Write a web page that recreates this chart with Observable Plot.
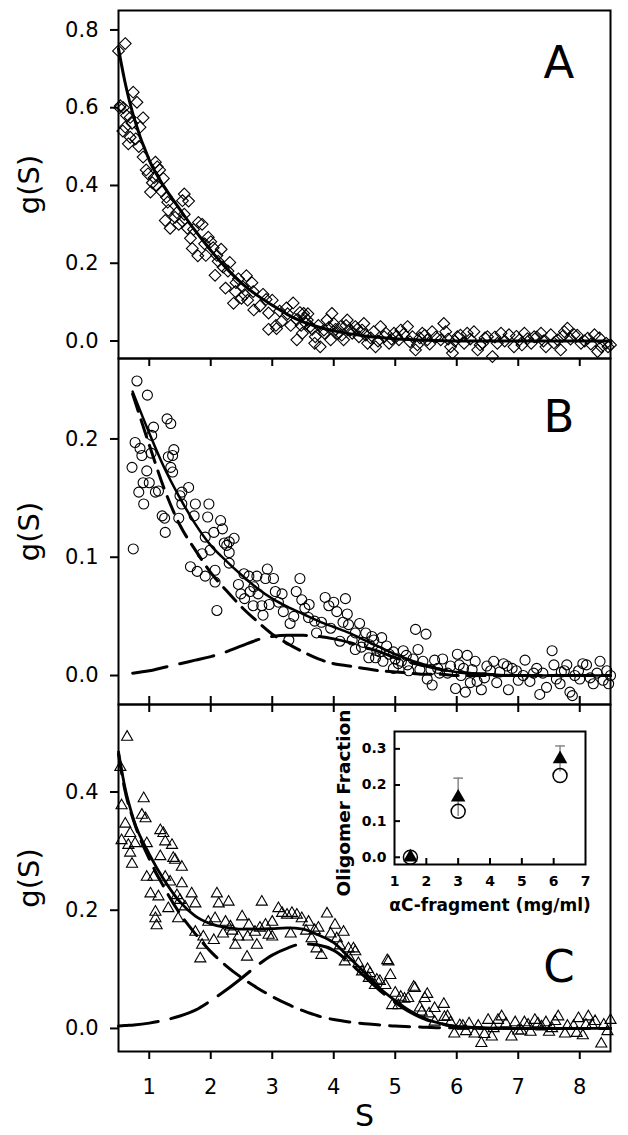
<!DOCTYPE html>
<html><head><meta charset="utf-8">
<script src="https://cdn.jsdelivr.net/npm/d3@7"></script>
<script src="https://cdn.jsdelivr.net/npm/@observablehq/plot@0.6"></script>
<style>
body{margin:0;background:#fff;}
#chart{position:relative;width:628px;height:1135px;}
#chart svg{position:absolute;left:0;overflow:visible;background:transparent;font-family:"DejaVu Sans",sans-serif;}
</style></head><body><div id="chart"></div>
<script>
// ---------- axes / labels ----------
const xDomain = [0.5, 8.5];
const xTicks = [1, 2, 3, 4, 5, 6, 7, 8];
const yTicksA = [0, 0.2, 0.4, 0.6, 0.8];
const yTicksB = [0, 0.1, 0.2];
const yTicksC = [0, 0.2, 0.4];
const yTitle = "g(S)";
const xTitle = "S";
const letters = ["A", "B", "C"];

// ---------- Panel A : diamonds ----------
const aS = [0.50,0.61,0.53,0.58,0.74,0.80,0.69,0.90,0.61,0.85,0.69,0.66,0.90,1.10,1.13,0.98,1.17,1.23,1.02,1.05,1.20,1.30,1.31,1.26,1.34,1.42,1.54,1.57,1.64,1.57,1.54,1.72,1.80,1.86,1.67,1.70,1.79,1.96,2.00,2.04,2.17,2.10,2.12,2.31,2.07,2.28,2.24,2.41,2.58,2.67,2.40,2.37,2.50,2.55,2.60,2.69,2.70,2.90,2.94,3.00,3.06,2.94,3.07,3.12,3.23,3.25,3.34,3.40,3.40,3.45,3.53,3.47,3.58,3.69,
  0.52,0.57,0.63,0.72,0.78,0.83,0.95,1.08,1.12,1.28,1.45,1.48,1.62,1.90,1.92,2.20,2.45,2.52,2.80,2.85,3.15,3.30,
  3.51,3.57,3.49,3.62,3.70,3.78,3.84,3.89,3.97,4.00,4.06,3.95,4.11,4.22,4.27,4.35,4.16,4.41,4.46,4.55,4.49,4.65,4.76,4.82,4.90,4.98,5.06,5.09,4.68,5.20,5.28,5.36,5.44,5.52,5.60,5.33,5.79,5.82,5.74,5.90,6.01,6.12,6.17,5.93,6.28,6.42,6.50,6.58,6.66,6.72,6.34,6.85,6.93,7.02,7.10,7.21,7.26,7.37,7.45,7.53,7.64,7.75,7.80,7.69,7.91,8.02,8.13,8.24,8.35,8.43,8.50,8.29,
  3.55,3.65,3.75,3.85,3.92,4.03,4.13,4.20,4.30,4.38,4.52,4.60,4.72,4.85,4.94,5.02,5.14,5.24,5.40,5.48,5.56,5.66,5.86,5.97,6.06,6.22,6.38,6.46,6.62,6.78,6.97,7.06,7.15,7.30,7.41,7.58,7.72,7.85,7.96,8.08,8.18,8.32,8.46];
const aG = [0.746,0.765,0.605,0.600,0.640,0.614,0.575,0.574,0.550,0.550,0.524,0.507,0.473,0.460,0.448,0.430,0.440,0.418,0.383,0.407,0.385,0.357,0.336,0.310,0.290,0.318,0.361,0.378,0.360,0.326,0.308,0.287,0.305,0.300,0.264,0.238,0.219,0.267,0.255,0.240,0.236,0.220,0.205,0.202,0.169,0.180,0.136,0.150,0.168,0.150,0.127,0.097,0.110,0.119,0.105,0.127,0.080,0.107,0.072,0.105,0.040,0.030,0.032,0.077,0.085,0.070,0.098,0.003,0.055,0.073,0.060,0.040,0.070,-0.006,
  0.600,0.540,0.580,0.560,0.520,0.500,0.440,0.420,0.400,0.370,0.330,0.300,0.290,0.250,0.220,0.190,0.160,0.140,0.090,0.120,0.050,0.040,
  0.071,0.054,0.020,0.037,0.011,-0.015,0.028,0.054,0.071,0.045,0.020,0.003,0.037,0.054,0.028,0.037,0.003,0.011,0.028,-0.006,0.045,0.024,0.037,0.011,-0.006,0.020,0.003,0.028,-0.015,0.037,0.011,-0.010,0.020,0.003,0.024,-0.023,0.045,0.024,0.003,-0.015,0.011,-0.006,0.020,-0.031,0.024,-0.006,0.011,-0.040,-0.006,0.020,-0.023,0.016,-0.015,0.003,0.020,-0.006,0.011,0.020,-0.015,0.016,0.003,0.024,0.033,-0.023,0.016,-0.006,0.007,0.016,-0.015,-0.006,-0.010,-0.027,
  0.045,0.030,0.040,0.020,0.035,0.030,0.015,0.040,0.020,0.030,0.015,0.008,0.000,0.020,0.005,0.012,0.018,-0.002,0.008,0.015,-0.008,0.010,0.005,0.000,0.015,0.005,-0.010,0.008,0.010,0.000,0.012,-0.010,0.006,0.010,0.000,-0.005,0.012,0.005,0.015,0.000,-0.008,0.008,-0.015];
const fitAS = [0.5,0.6,0.75,1,1.25,1.5,1.75,2,2.25,2.5,2.75,3,3.25,3.5,3.75,4,4.5,5,5.5,6,7,8,8.5];
const fitAG = [0.752,0.67,0.575,0.465,0.395,0.338,0.283,0.233,0.188,0.149,0.118,0.092,0.068,0.049,0.036,0.026,0.013,0.006,0.002,0.0,0.0,0.0,0.0];

// ---------- Panel B : circles ----------
const bS = [0.80,0.97,0.77,0.85,0.88,1.04,1.07,1.03,0.72,0.96,0.90,1.00,0.83,0.91,1.10,1.15,0.74,1.29,1.35,1.31,1.38,1.40,1.35,1.38,1.21,1.25,1.26,1.50,1.53,1.64,1.53,1.48,1.75,1.73,1.97,1.95,1.91,1.99,2.05,2.16,2.19,2.22,2.26,2.30,2.38,2.30,1.86,2.07,1.67,1.78,1.91,2.07,2.10,2.30,2.45,2.49,2.54,2.62,2.64,2.75,2.77,2.69,2.83,2.85,2.89,2.92,3.02,3.05,3.16,3.18,3.29,3.27,3.45,3.39,3.48,3.53,3.59,3.69,3.72,3.86,3.92,4.00,4.05,4.19,4.22,4.24,4.10,4.35,4.35,4.52,4.57,4.62,
  2.55,2.70,2.95,3.10,3.35,3.60,3.80,3.95,4.15,4.30,
  5.33,5.50,4.48,4.65,4.78,4.70,4.86,4.97,5.13,5.37,5.18,5.29,4.97,5.52,5.64,5.77,5.69,5.85,6.01,6.17,6.04,6.11,5.98,6.14,6.22,6.33,6.49,6.60,6.76,6.84,6.65,6.97,7.11,7.19,7.35,7.46,7.55,7.58,7.68,7.79,7.84,7.98,8.11,8.22,8.33,8.44,8.47,7.88,5.05,5.40,5.60,6.30,6.90,7.25,7.70,8.00,8.28,8.50,4.80,4.42,5.22,6.40,
  4.45,4.58,4.68,4.75,4.90,5.00,5.10,5.20,5.45,5.58,5.72,5.90,6.07,6.25,6.45,6.55,6.70,6.82,7.00,7.08,7.30,7.40,7.62,7.75,7.92,8.05,8.17,8.38];
const bG = [0.249,0.237,0.197,0.192,0.186,0.203,0.210,0.188,0.176,0.173,0.163,0.163,0.155,0.145,0.155,0.156,0.107,0.217,0.213,0.185,0.186,0.191,0.176,0.172,0.135,0.133,0.121,0.152,0.155,0.159,0.145,0.133,0.145,0.135,0.145,0.134,0.117,0.106,0.121,0.131,0.124,0.112,0.110,0.113,0.116,0.104,0.103,0.089,0.092,0.088,0.084,0.079,0.055,0.095,0.077,0.069,0.086,0.084,0.071,0.084,0.069,0.059,0.059,0.051,0.082,0.090,0.082,0.071,0.069,0.054,0.044,0.030,0.082,0.071,0.064,0.057,0.049,0.046,0.036,0.066,0.059,0.062,0.054,0.065,0.052,0.043,0.029,0.036,0.022,0.036,0.015,0.033,
  0.065,0.075,0.060,0.062,0.050,0.060,0.045,0.040,0.045,0.030,
  0.039,0.035,0.028,0.030,0.032,0.021,0.025,0.020,0.021,0.022,0.017,0.014,0.006,-0.003,0.013,0.014,0.006,0.002,0.018,0.017,0.009,0.006,-0.011,-0.014,-0.006,-0.005,0.008,0.012,0.010,-0.012,-0.006,0.004,0.013,-0.005,-0.016,-0.010,0.021,0.009,-0.007,0.009,-0.014,0.004,0.009,-0.007,0.012,0.004,-0.007,-0.017,0.010,0.005,-0.008,0.012,0.006,0.002,0.003,-0.003,0.002,0.000,0.012,0.044,0.004,-0.012,
  0.024,0.026,0.015,0.020,0.018,0.014,0.012,0.009,0.012,0.005,0.002,0.008,0.000,0.005,-0.002,0.004,0.003,0.008,-0.004,0.000,0.006,0.002,-0.003,0.004,0.000,0.010,-0.002,-0.004];
const fitBS = [0.73,1,1.25,1.5,1.75,2,2.25,2.5,2.75,3,3.25,3.5,3.75,4,4.25,4.5,4.75,5,5.25,5.5,5.75,6,6.5,7,7.5,8,8.5];
const totalB = [0.240,0.205,0.175,0.150,0.128,0.110,0.097,0.085,0.074,0.065,0.058,0.052,0.046,0.041,0.036,0.030,0.024,0.018,0.013,0.009,0.005,0.003,0.001,0,0,0,0];
const monoB  = [0.238,0.195,0.157,0.127,0.106,0.087,0.072,0.058,0.046,0.035,0.027,0.020,0.014,0.010,0.008,0.006,0.004,0.003,0.002,0.001,0.001,0,0,0,0,0,0];
const oligB  = [0.002,0.004,0.007,0.010,0.013,0.016,0.020,0.025,0.030,0.033,0.034,0.034,0.033,0.031,0.028,0.024,0.020,0.015,0.011,0.008,0.005,0.003,0.001,0,0,0,0];

// ---------- Panel C : triangles ----------
const cS = [0.64,0.53,0.55,0.61,0.55,0.69,0.66,0.77,0.69,0.72,0.91,0.88,0.94,0.96,0.96,1.02,1.07,1.10,1.10,1.12,1.18,1.23,1.26,1.37,1.18,1.39,1.42,1.53,1.26,1.34,1.53,1.15,1.31,1.45,1.50,1.58,1.69,1.75,1.47,1.75,1.83,1.86,1.88,2.05,1.96,2.07,2.10,2.13,2.29,2.24,2.32,2.40,2.45,2.51,2.59,2.62,2.72,2.75,2.83,2.89,2.94,3.00,3.10,3.16,3.24,3.32,3.40,3.48,3.59,3.64,3.69,3.80,3.72,3.89,4.02,4.16,4.05,4.18,4.35,4.24,4.46,4.57,4.67,4.89,4.92,4.84,4.95,5.05,5.32,5.21,5.48,5.43,5.64,5.64,5.80,
  4.32,4.87,4.59,4.70,5.30,5.09,5.52,5.79,5.85,5.96,6.29,6.57,6.40,6.51,6.67,6.73,6.89,7.16,7.27,7.38,7.65,7.76,7.98,8.14,8.20,8.35,8.50,8.39,6.10,6.95,7.05,7.50,7.90,8.05,6.20,7.45,
  3.00,3.30,3.55,3.75,3.95,4.10,4.25,4.40,4.55,4.75,5.00,5.15,5.40,5.55,2.20,2.35,2.60,2.80,
  5.90,6.05,6.15,6.35,6.45,6.60,6.80,7.00,7.10,7.20,7.32,7.55,7.60,7.80,7.95,8.10,8.25,8.45];
const cG = [0.493,0.442,0.377,0.346,0.318,0.330,0.310,0.313,0.297,0.278,0.389,0.361,0.355,0.313,0.256,0.228,0.256,0.197,0.186,0.174,0.335,0.330,0.316,0.310,0.291,0.288,0.285,0.273,0.256,0.248,0.245,0.223,0.203,0.225,0.217,0.206,0.228,0.211,0.186,0.163,0.118,0.141,0.155,0.149,0.180,0.186,0.228,0.211,0.214,0.180,0.172,0.141,0.155,0.189,0.121,0.175,0.163,0.141,0.214,0.175,0.158,0.155,0.203,0.195,0.192,0.195,0.192,0.186,0.180,0.152,0.166,0.124,0.135,0.194,0.175,0.163,0.152,0.113,0.130,0.135,0.096,0.085,0.073,0.113,0.090,0.073,0.039,0.039,0.068,0.051,0.051,0.028,0.034,0.011,0.019,
  0.135,0.115,0.093,0.082,0.070,0.053,0.058,0.041,0.020,-0.009,-0.009,-0.014,-0.025,0.014,0.014,0.020,-0.014,0.006,0.014,0.003,0.020,-0.009,0.017,0.020,0.006,-0.026,0.014,0.006,0.004,0.010,-0.004,-0.006,0.004,-0.012,0.008,0.010,
  0.180,0.160,0.165,0.170,0.160,0.140,0.120,0.110,0.100,0.080,0.060,0.050,0.035,0.025,0.160,0.165,0.155,0.170,
  0.010,0.005,-0.005,0.004,-0.010,0.000,0.008,-0.004,0.010,-0.006,0.008,0.000,0.012,0.004,-0.008,0.006,0.012,-0.005];
const fitCS = [0.5,0.6,0.75,1,1.25,1.5,1.75,2,2.25,2.5,2.75,3,3.25,3.5,3.75,4,4.25,4.5,4.75,5,5.25,5.5,5.75,6,6.5,7,7.5,8,8.5];
const totalC = [0.468,0.410,0.352,0.295,0.250,0.214,0.190,0.177,0.171,0.168,0.168,0.169,0.170,0.168,0.158,0.145,0.120,0.095,0.068,0.047,0.029,0.016,0.008,0.003,0.001,0,0,0,0];
const monoC  = [0.464,0.405,0.350,0.287,0.237,0.194,0.160,0.130,0.106,0.086,0.069,0.054,0.041,0.030,0.021,0.015,0.011,0.008,0.006,0.004,0.003,0.002,0.001,0.001,0,0,0,0,0];
const oligC  = [0.004,0.005,0.006,0.009,0.014,0.021,0.031,0.047,0.065,0.085,0.106,0.124,0.136,0.143,0.141,0.132,0.112,0.088,0.064,0.044,0.027,0.015,0.008,0.003,0.001,0,0,0,0];

// ---------- Inset ----------
const insetConc   = [1.5, 3.0, 6.2];
const insetOpen   = [0.000, 0.127, 0.226];
const insetFilled = [0.000, 0.166, 0.272];
const insetErr    = [0.000, 0.053, 0.036];
const insetXTicks = [1, 2, 3, 4, 5, 6, 7];
const insetXInner = [2, 3, 4, 5, 6];
const insetYTicks = [0, 0.1, 0.2, 0.3];
const insetXLabel = "αC-fragment (mg/ml)";
const insetYLabel = "Oligomer Fraction";

// ---------- build ----------
const rows = (xs, ys) => xs.map((x, i) => ({x, y: ys[i]}));
const fmt = d3.format(".1f");
const chart = document.getElementById("chart");

function mainPanel(o) {
  const innerH = o.height - o.marginTop - o.marginBottom;
  const marks = [
    Plot.dot(o.pts, {x: "x", y: "y", symbol: o.symbol, r: o.r, stroke: "black", strokeWidth: 1.1, fill: "none"}),
    ...o.curves.map(c => Plot.line(c.data, {x: "x", y: "y", curve: "monotone-x", stroke: "black", strokeWidth: c.w, strokeDasharray: c.dash})),
    Plot.axisY({ticks: o.yTicks, tickFormat: fmt, tickSize: 8, tickPadding: 12, fontSize: 21, strokeWidth: 2, label: null}),
    Plot.text([yTitle], {frameAnchor: "left", dx: -88.5, rotate: -90, fontSize: 29, text: d => d, textAnchor: "middle", lineAnchor: "middle"}),
    Plot.text([o.letter], {frameAnchor: "top-right", dx: -51.5, dy: o.letterDy, fontSize: 45, text: d => d, textAnchor: "middle", lineAnchor: "middle"})
  ];
  if (o.topTicks) marks.push(Plot.tickX(xTicks, {x: d => d, insetBottom: innerH - 8, strokeWidth: 2}));
  if (o.bottomTicks) marks.push(Plot.tickX(xTicks, {x: d => d, insetTop: innerH - 8, strokeWidth: 2}));
  if (o.bottomAxis) {
    marks.push(Plot.axisX({ticks: xTicks, tickFormat: d => String(d), tickSize: 8, tickPadding: 20, fontSize: 21, strokeWidth: 2, label: null}));
    marks.push(Plot.text([xTitle], {frameAnchor: "bottom", dy: 65, fontSize: 30, text: d => d, textAnchor: "middle", lineAnchor: "middle"}));
  }
  marks.push(Plot.frame({stroke: "black", strokeWidth: 2}));
  const svg = Plot.plot({
    width: 628, height: o.height,
    marginLeft: 118, marginRight: 18, marginTop: o.marginTop, marginBottom: o.marginBottom,
    x: o.bottomAxis ? {domain: xDomain} : {domain: xDomain, axis: null},
    y: {domain: o.yDomain},
    marks
  });
  svg.style.top = o.top + "px";
  chart.appendChild(svg);
}

mainPanel({
  pts: rows(aS, aG), symbol: "diamond2", r: 5.3,
  curves: [{data: rows(fitAS, fitAG), w: 3}],
  yDomain: [-0.045, 0.85], yTicks: yTicksA,
  height: 358, marginTop: 10, marginBottom: 0, top: 0,
  letter: letters[0], letterDy: 53
});
mainPanel({
  pts: rows(bS, bG), symbol: "circle", r: 5,
  curves: [
    {data: rows(fitBS, totalB), w: 2.5},
    {data: rows(fitBS, monoB), w: 3, dash: "18,9"},
    {data: rows(fitBS, oligB), w: 3, dash: "35,13"}
  ],
  yDomain: [-0.0245, 0.268], yTicks: yTicksB,
  height: 346, marginTop: 0, marginBottom: 0, top: 358,
  letter: letters[1], letterDy: 58.7, topTicks: true, bottomTicks: true
});
mainPanel({
  pts: rows(cS, cG), symbol: "triangle2", r: 5.3,
  curves: [
    {data: rows(fitCS, totalC), w: 2.8},
    {data: rows(fitCS, monoC), w: 3, dash: "20,10"},
    {data: rows(fitCS, oligC), w: 3, dash: "40,13"}
  ],
  yDomain: [-0.039, 0.548], yTicks: yTicksC,
  height: 431, marginTop: 0, marginBottom: 84, top: 704,
  letter: letters[2], letterDy: 262.7, topTicks: true, bottomAxis: true
});

// inset
const insetRows = insetConc.map((c, i) => ({c, o: insetOpen[i], f: insetFilled[i], e: insetErr[i]}));
const errRows = insetRows.filter(d => d.e > 0);
const capSymbol = {draw(ctx, size) { const w = Math.sqrt(size) / 2; ctx.moveTo(-w, 0); ctx.lineTo(w, 0); }};
const inset = Plot.plot({
  width: 265, height: 209, marginLeft: 64, marginRight: 10, marginTop: 16, marginBottom: 60,
  x: {domain: [1, 7]}, y: {domain: [-0.02, 0.348]},
  marks: [
    Plot.ruleX(errRows, {x: "c", y1: d => d.f - d.e, y2: d => d.f + d.e, stroke: "#888", strokeWidth: 1.5}),
    Plot.dot(errRows, {x: "c", y: d => d.f + d.e, symbol: capSymbol, r: 5.5, stroke: "#888", strokeWidth: 1.5, fill: "none"}),
    Plot.dot(insetRows, {x: "c", y: "o", r: 7, stroke: "black", strokeWidth: 1.5, fill: "none"}),
    Plot.dot(insetRows, {x: "c", y: "f", symbol: "triangle", r: 5.4, fill: "black", stroke: "none"}),
    Plot.tickX(insetXInner, {x: d => d, insetTop: 127, strokeWidth: 2}),
    Plot.tickY(insetYTicks, {y: d => d, insetRight: 185, strokeWidth: 2}),
    Plot.axisX({ticks: insetXTicks, tickFormat: d => String(d), tickSize: 0, tickPadding: 12, fontSize: 14, fontWeight: "bold", label: null}),
    Plot.axisY({ticks: insetYTicks, tickFormat: fmt, tickSize: 0, tickPadding: 8, fontSize: 14, fontWeight: "bold", label: null}),
    Plot.text([insetYLabel], {frameAnchor: "left", dx: -50, dy: 5, rotate: -90, fontSize: 18.5, fontWeight: "bold", text: d => d, textAnchor: "middle", lineAnchor: "middle"}),
    Plot.text([insetXLabel], {frameAnchor: "bottom", dy: 41, fontSize: 17, fontWeight: "bold", text: d => d, textAnchor: "middle", lineAnchor: "middle"}),
    Plot.frame({stroke: "black", strokeWidth: 2})
  ]
});
inset.style.top = "715px";
inset.style.left = "330px";
chart.appendChild(inset);
</script></body></html>
